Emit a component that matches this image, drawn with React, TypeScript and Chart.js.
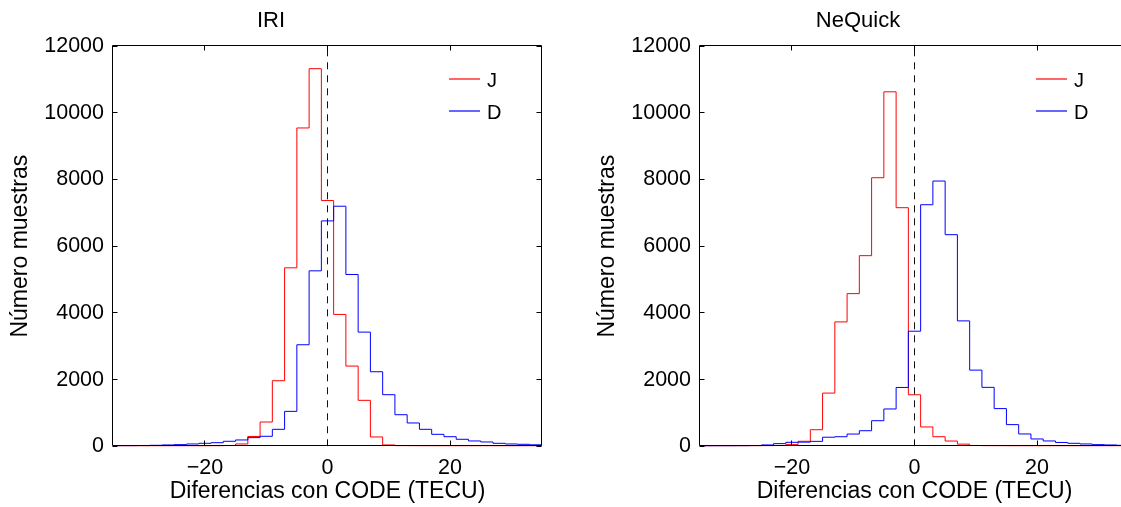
import React, { useEffect, useRef } from 'react';
import { Chart, registerables } from 'chart.js';

Chart.register(...registerables);

// ---------- data ----------
const BIN_CENTERS = [
  -34, -32, -30, -28, -26, -24, -22, -20, -18, -16, -14, -12, -10, -8, -6, -4, -2,
  0, 2, 4, 6, 8, 10, 12, 14, 16, 18, 20, 22, 24, 26, 28, 30, 32, 34,
];
const BIN_WIDTH = 2;

const IRI_J = [
  0, 0, 0, 0, 0, 0, 0, 0, 5, 20, 70, 295, 728, 1966, 5350, 9543, 11320,
  7367, 3953, 2405, 1378, 280, 40, 10, 5, 0, 0, 0, 0, 0, 0, 0, 0, 0, 0,
];
const IRI_D = [
  10, 10, 20, 30, 40, 50, 70, 90, 108, 150, 190, 260, 300, 509, 1047, 3044, 5260,
  6757, 7197, 5151, 3423, 2235, 1547, 947, 699, 509, 359, 288, 210, 160, 130, 90, 70, 60, 45,
];
const NEQ_J = [
  0, 0, 0, 0, 5, 10, 20, 50, 150, 497, 1595, 3729, 4577, 5715, 8051, 10627, 7153,
  1545, 580, 287, 158, 65, 20, 8, 4, 0, 0, 0, 0, 0, 0, 0, 0, 0, 0,
];
const NEQ_D = [
  0, 3, 5, 10, 20, 40, 80, 120, 125, 148, 272, 287, 367, 467, 767, 1119, 1764,
  3450, 7242, 7952, 6344, 3759, 2284, 1767, 1130, 650, 370, 220, 160, 115, 90, 70, 50, 40, 30,
];

const X_MIN = -35;
const X_MAX = 35;
const X_TICKS = [-20, 0, 20];
const Y_TICKS = [0, 2000, 4000, 6000, 8000, 10000, 12000];
const Y_MAX = 12000;
const REF_LINE_X = 0;

const SERIES_LABELS = ['J', 'D'];
const SERIES_COLORS = ['rgb(255,0,0)', 'rgb(0,0,255)'];
const PANEL_TITLES = ['IRI', 'NeQuick'];
const X_TITLE = 'Diferencias con CODE (TECU)';
const Y_TITLE = 'Número muestras';

// ---------- styling ----------
const FONT = "'Liberation Sans', Arial, Helvetica, sans-serif";
const W = 560;
const H = 507;

function stairs(values: number[]) {
  const pts = BIN_CENTERS.map((c, i) => ({ x: c - BIN_WIDTH / 2, y: values[i] }));
  const last = BIN_CENTERS.length - 1;
  pts.push({ x: BIN_CENTERS[last] + BIN_WIDTH / 2, y: values[last] });
  return pts;
}

const boxPlugin = {
  id: 'matlabBox',
  afterDatasetsDraw(chart: any) {
    const { ctx, chartArea, scales } = chart;
    const { left, right, top, bottom } = chartArea;
    const L = Math.round(left) - 0.5;
    const R = Math.round(right) - 0.5;
    const T = Math.round(top) - 0.5;
    const B = Math.round(bottom) - 0.5;
    const tl = 5;
    ctx.save();
    ctx.setLineDash([]);
    ctx.strokeStyle = '#000';
    ctx.lineWidth = 1;
    ctx.beginPath();
    ctx.rect(L, T, R - L, B - T);
    for (const t of scales.x.ticks) {
      const px = Math.round(scales.x.getPixelForValue(t.value) - 0.5) + 0.5;
      ctx.moveTo(px, B); ctx.lineTo(px, B - tl);
      ctx.moveTo(px, T); ctx.lineTo(px, T + tl);
    }
    for (const t of scales.y.ticks) {
      const py = Math.round(scales.y.getPixelForValue(t.value) - 0.5) + 0.5;
      ctx.moveTo(L, py); ctx.lineTo(L + tl, py);
      ctx.moveTo(R, py); ctx.lineTo(R - tl, py);
    }
    ctx.stroke();
    ctx.restore();
  },
  afterDraw(chart: any) {
    // legend (no box), inside upper right
    const { ctx, chartArea } = chart;
    const { right, top } = chartArea;
    ctx.save();
    ctx.setLineDash([]);
    ctx.globalAlpha = 1;
    ctx.lineWidth = 1.2;
    ctx.font = `20px ${FONT}`;
    ctx.textAlign = 'left';
    ctx.textBaseline = 'alphabetic';
    SERIES_LABELS.forEach((label, i) => {
      const y = Math.round(top) + 33 + i * 32;
      ctx.strokeStyle = SERIES_COLORS[i];
      ctx.beginPath();
      ctx.moveTo(Math.round(right) - 93, y);
      ctx.lineTo(Math.round(right) - 62, y);
      ctx.stroke();
      ctx.fillStyle = '#000000';
      ctx.fillText(label, Math.round(right) - 55, y + 7.5);
    });
    ctx.restore();
  },
};

function Panel({ title, j, d }: { title: string; j: number[]; d: number[] }) {
  const ref = useRef<HTMLCanvasElement | null>(null);
  useEffect(() => {
    if (!ref.current) return;
    const chart = new Chart(ref.current, {
      type: 'line',
      data: {
        datasets: [
          {
            label: 'zero',
            data: [{ x: REF_LINE_X, y: 0 }, { x: REF_LINE_X, y: Y_MAX }],
            borderColor: '#111111',
            borderWidth: 1,
            borderDash: [7, 6],
            pointRadius: 0,
            order: 0,
          } as any,
          {
            label: SERIES_LABELS[0],
            data: stairs(j),
            borderColor: SERIES_COLORS[0],
            borderWidth: 1,
            stepped: 'before',
            pointRadius: 0,
            order: 2,
          } as any,
          {
            label: SERIES_LABELS[1],
            data: stairs(d),
            borderColor: SERIES_COLORS[1],
            borderWidth: 1,
            stepped: 'before',
            pointRadius: 0,
            order: 1,
          } as any,
        ],
      },
      options: {
        responsive: false,
        animation: false,
        devicePixelRatio: 1,
        layout: { padding: { left: 0, right: 18, top: 0, bottom: 0 } },
        plugins: {
          legend: { display: false },
          tooltip: { enabled: false },
          title: {
            display: true,
            text: title,
            color: '#000',
            font: { family: FONT, size: 22, weight: 'normal', lineHeight: 1.2 },
            padding: { top: 7.5, bottom: 12.1 },
          },
        },
        scales: {
          x: {
            type: 'linear',
            min: X_MIN,
            max: X_MAX,
            grid: { display: false, drawTicks: false },
            border: { display: false },
            afterBuildTicks: (s: any) => {
              s.ticks = X_TICKS.map((v) => ({ value: v }));
            },
            afterFit: (s: any) => {
              s.height = 60.7;
            },
            ticks: {
              color: '#000',
              font: { family: FONT, size: 21.5 },
              padding: 9,
              maxRotation: 0,
              callback: (v: any) => (v < 0 ? '\u2212' + Math.abs(v) : String(v)),
            },
            title: {
              display: true,
              text: X_TITLE,
              color: '#000',
              font: { family: FONT, size: 23, lineHeight: 1.2 },
              padding: { top: 0, bottom: 1.5 },
            },
          },
          y: {
            type: 'linear',
            min: 0,
            max: Y_MAX,
            grid: { display: false, drawTicks: false },
            border: { display: false },
            afterBuildTicks: (s: any) => {
              s.ticks = Y_TICKS.map((v) => ({ value: v }));
            },
            afterFit: (s: any) => {
              s.width = 113;
            },
            ticks: {
              color: '#000',
              font: { family: FONT, size: 21.5 },
              padding: 9,
              callback: (v: any) => String(v),
            },
            title: {
              display: true,
              text: Y_TITLE,
              color: '#000',
              font: { family: FONT, size: 23, lineHeight: 1.2 },
              padding: { top: 6.9, bottom: 0 },
            },
          },
        },
      } as any,
      plugins: [boxPlugin],
    });
    return () => chart.destroy();
  }, [title, j, d]);
  return <canvas ref={ref} width={W} height={H} style={{ width: W, height: H, display: 'block' }} />;
}

export default function App() {
  useEffect(() => {
    document.body.style.margin = '0';
  }, []);
  return (
    <div style={{ position: 'relative', width: 1121, height: 507, overflow: 'hidden', background: '#fff' }}>
      <div style={{ position: 'absolute', left: 0, top: 0 }}>
        <Panel title={PANEL_TITLES[0]} j={IRI_J} d={IRI_D} />
      </div>
      <div style={{ position: 'absolute', left: 587, top: 0 }}>
        <Panel title={PANEL_TITLES[1]} j={NEQ_J} d={NEQ_D} />
      </div>
    </div>
  );
}
